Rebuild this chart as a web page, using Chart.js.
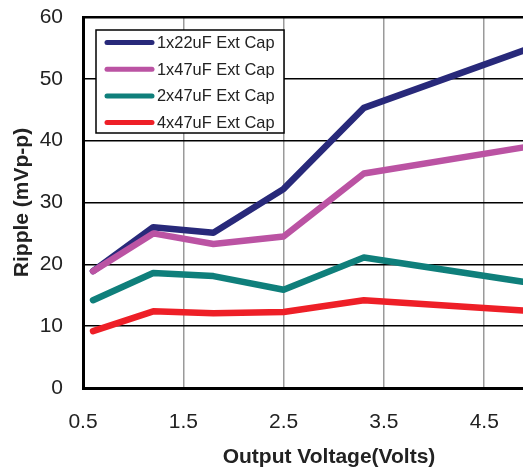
<!DOCTYPE html>
<html>
<head>
<meta charset="utf-8">
<title>Ripple vs Output Voltage</title>
<script src="https://cdn.jsdelivr.net/npm/chart.js@4.4.1/dist/chart.umd.min.js"></script>
<style>
  html, body { margin: 0; padding: 0; background: #fff; width: 523px; height: 468px; overflow: hidden; }
  /* the original picture is cropped at the right edge, so the canvas is a bit wider than the window */
  #chartBox { position: relative; width: 575px; height: 468px; }
</style>
</head>
<body>
<div id="chartBox"><canvas id="rippleChart"></canvas></div>
<script>
/************************************************************************************************
 *                                        CHART DATA
 * **********************************************************************************************/
const outputVolts = [0.6, 1.2, 1.8, 2.5, 3.3, 5.0];
const ripple1x22 = [18.9, 26.0, 25.1, 32.2, 45.3, 55.2];
const ripple1x47 = [18.9, 25.0, 23.3, 24.5, 34.7, 39.2];
const ripple2x47 = [14.2, 18.6, 18.1, 15.9, 21.1, 16.9];
const ripple4x47 = [9.2, 12.4, 12.1, 12.3, 14.2, 12.4];

const seriesLabels = ["1x22uF Ext Cap", "1x47uF Ext Cap", "2x47uF Ext Cap", "4x47uF Ext Cap"];
const xTickValues = [0.5, 1.5, 2.5, 3.5, 4.5];
const yTickValues = [0, 10, 20, 30, 40, 50, 60];

/************************************************************************************************
 *                                        CHART SETTINGS
 * **********************************************************************************************/
const rippleSettings = {
  xTitle: "Output Voltage(Volts)",
  yTitle: "Ripple (mVp-p)",
  colors: ["#28297a", "#bb53a3", "#0f7f7b", "#ee1f27"],
  font: "'Liberation Sans', Arial, sans-serif",
};

function toPoints(values) {
  return values.map((v, i) => ({ x: outputVolts[i], y: v }));
}

function getDataSets() {
  const allSeries = [ripple1x22, ripple1x47, ripple2x47, ripple4x47];
  return allSeries.map((values, i) => ({
    label: seriesLabels[i],
    data: toPoints(values),
    borderColor: rippleSettings.colors[i],
    backgroundColor: rippleSettings.colors[i],
    borderWidth: 6.5,
    pointRadius: 0,
    pointHoverRadius: 0,
    tension: 0,
    borderJoinStyle: "round",
    borderCapStyle: "round",
    // later series sit on top, like the original
    order: allSeries.length - i,
  }));
}

/************************************************************************************************
 *                                        LEGEND (boxed, inside plot)
 * **********************************************************************************************/
const boxedLegend = {
  id: "boxedLegend",
  afterDatasetsDraw(chart) {
    const ctx = chart.ctx;
    const left = 96, top = 30, width = 188, height = 103;
    ctx.save();
    ctx.fillStyle = "#ffffff";
    ctx.fillRect(left, top, width, height);
    ctx.strokeStyle = "#000000";
    ctx.lineWidth = 1.5;
    ctx.strokeRect(left, top, width, height);

    ctx.font = "16.4px " + rippleSettings.font;
    ctx.textBaseline = "middle";
    ctx.textAlign = "left";
    chart.data.datasets.forEach((ds, i) => {
      const rowY = top + 12.5 + i * 26.7;
      ctx.strokeStyle = ds.borderColor;
      ctx.lineWidth = 5;
      ctx.lineCap = "round";
      ctx.beginPath();
      ctx.moveTo(107, rowY);
      ctx.lineTo(152, rowY);
      ctx.stroke();
      ctx.fillStyle = "#222222";
      ctx.fillText(ds.label, 157, rowY + 1);
    });
    ctx.restore();
  },
};

/************************************************************************************************
 *                                        RENDER
 * **********************************************************************************************/
function getRippleChart() {
  const tickFont = { family: rippleSettings.font, size: 21 };
  const titleFont = { family: rippleSettings.font, size: 21, weight: "bold", lineHeight: 1.0 };

  const config = {
    type: "line",
    data: { datasets: getDataSets() },
    options: {
      responsive: true,
      maintainAspectRatio: false,
      animation: false,
      layout: { padding: { left: 0, top: 17, right: 0, bottom: 0 } },
      plugins: {
        legend: { display: false },
        tooltip: { enabled: false },
      },
      scales: {
        x: {
          type: "linear",
          min: 0.5,
          max: 5.405,
          afterBuildTicks: (scale) => {
            scale.ticks = xTickValues.map((v) => ({ value: v }));
          },
          afterFit: (scale) => {
            scale.height = 80;
          },
          ticks: {
            font: tickFont,
            color: "#222222",
            padding: 22,
            maxRotation: 0,
            callback: (v) => v.toFixed(1),
          },
          grid: {
            drawTicks: false,
            color: (c) => (c.tick && c.tick.value === 0.5 ? "rgba(0,0,0,0)" : "#9a9a9a"),
            lineWidth: 1.5,
          },
          border: { color: "#000000", width: 3 },
          title: {
            display: true,
            text: rippleSettings.xTitle,
            color: "#222222",
            font: titleFont,
            padding: { top: 0, bottom: 0 },
          },
        },
        y: {
          min: 0,
          max: 60,
          afterBuildTicks: (scale) => {
            scale.ticks = yTickValues.map((v) => ({ value: v }));
          },
          afterFit: (scale) => {
            scale.width = 83;
            // keep the tick padding from pushing the plot down
            scale.paddingTop = 0;
            scale.paddingBottom = 0;
          },
          ticks: {
            font: tickFont,
            color: "#222222",
            padding: 20,
          },
          grid: {
            drawTicks: false,
            color: (c) => (c.tick && c.tick.value === 0 ? "rgba(0,0,0,0)" : "#000000"),
            lineWidth: (c) => (c.tick && c.tick.value === 60 ? 2.5 : 1.5),
          },
          border: { color: "#000000", width: 3 },
          title: {
            display: true,
            text: rippleSettings.yTitle,
            color: "#222222",
            font: titleFont,
            padding: { top: 12, bottom: 0 },
          },
        },
      },
    },
    plugins: [boxedLegend],
  };

  return new Chart(document.getElementById("rippleChart"), config);
}

getRippleChart();
</script>
</body>
</html>
